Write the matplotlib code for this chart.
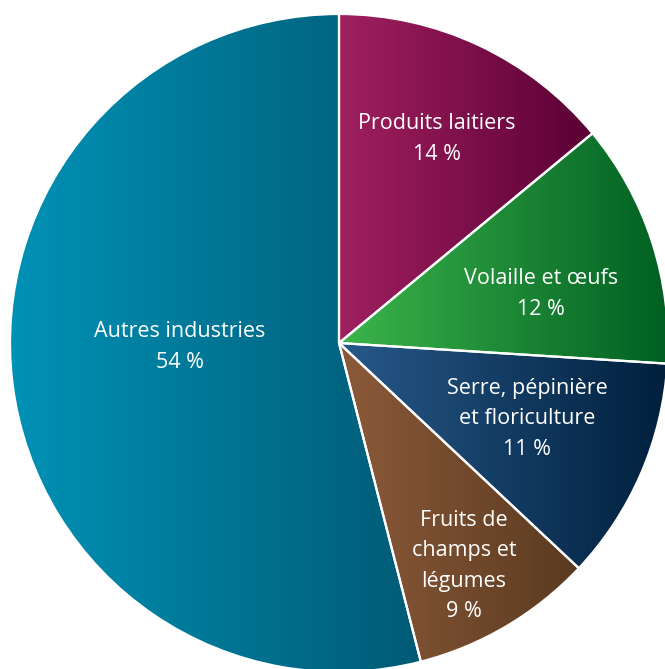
import numpy as np
import matplotlib
matplotlib.use('Agg')
import matplotlib.pyplot as plt
from matplotlib.colors import LinearSegmentedColormap

# parts du total, dans le sens horaire depuis le haut
labels = ['Produits laitiers', 'Volaille et œufs', 'Serre, pépinière\net floriculture',
          'Fruits de\nchamps et\nlégumes', 'Autres industries']
shares = [14, 12, 11, 9, 54]
pct_text = ['14 %', '12 %', '11 %', '9 %', '54 %']

# dégradés gauche -> droite
col_left = ['#a0205f', '#3db54b', '#28598a', '#8c5a3a', '#0092b6']
col_right = ['#5a0034', '#005f22', '#00203d', '#5a3a1f', '#005a75']

# positions des étiquettes (pixels de l'image)
label_px = [(437, 139), (541, 294), (527, 419), (464, 566), (180, 347)]

W, H = 665, 669
R = 329.0
cx, cy = 339, 343

fig = plt.figure(figsize=(W / 100, H / 100), dpi=100)
ax = fig.add_axes([0, 0, 1, 1])

wedges, _ = ax.pie(shares, startangle=90, counterclock=False, radius=1,
                   wedgeprops=dict(edgecolor='white', linewidth=1.6, facecolor='none'))

grad = np.linspace(0, 1, 256).reshape(1, -1)
for i, w in enumerate(wedges):
    w.set_facecolor('none')
    w.set_zorder(2)
    bb = w.get_path().get_extents()
    cmap = LinearSegmentedColormap.from_list('g%d' % i, [col_left[i], col_right[i]])
    im = ax.imshow(grad, cmap=cmap, extent=[bb.x0, bb.x1, bb.y0, bb.y1],
                   aspect='auto', interpolation='bicubic', zorder=1)
    im.set_clip_path(w)

for i in range(len(labels)):
    px, py = label_px[i]
    ax.text((px - cx) / R, (cy - py) / R, labels[i] + '\n' + pct_text[i],
            ha='center', va='center', color='white', fontsize=15.5,
            family='Open Sans', linespacing=1.58)

ax.set_xlim(-cx / R, (W - cx) / R)
ax.set_ylim(-(H - cy) / R, cy / R)
ax.set_aspect('equal')
ax.axis('off')

plt.savefig('out.png', dpi=100, facecolor='white')
